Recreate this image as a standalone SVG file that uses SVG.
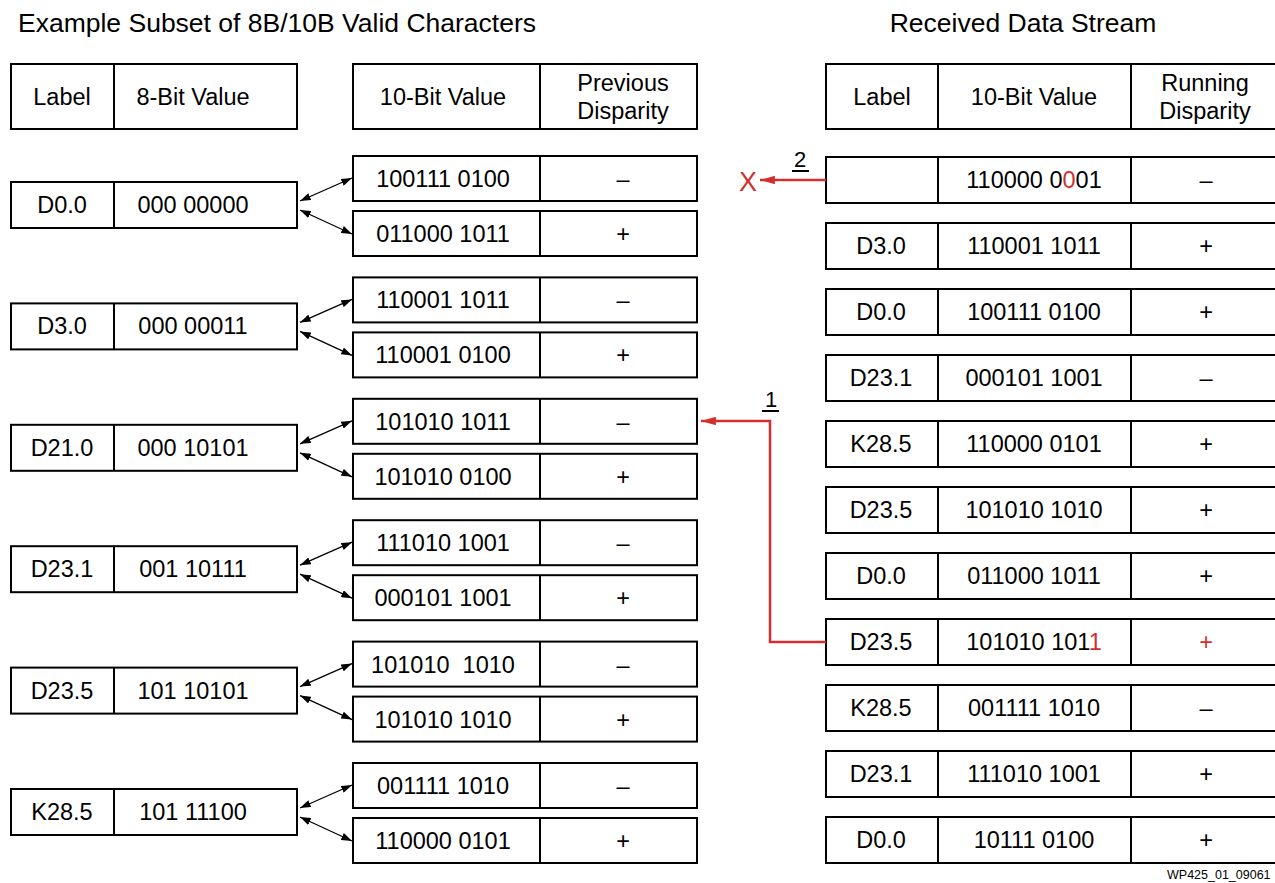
<svg xmlns="http://www.w3.org/2000/svg" width="1275" height="883" viewBox="0 0 1275 883">
<defs>
<style>
rect.b{fill:#fff;stroke:#000;stroke-width:2}
line.d{stroke:#000;stroke-width:2}
text{font-family:"Liberation Sans",Arial,Helvetica,sans-serif;font-size:23.5px;fill:#000}
text.m{text-anchor:middle}
text.t{font-size:26.5px}
.red{fill:#d2302f}
.ar{stroke:#000;stroke-width:1.3;fill:none}
.rl{stroke:#d2302f;stroke-width:2.5;fill:none}
</style>
<marker id="ah" viewBox="0 0 10 7" refX="10" refY="3.5" markerWidth="11" markerHeight="7.5" markerUnits="userSpaceOnUse" orient="auto-start-reverse">
<path d="M0,0 L10,3.5 L0,7 z" fill="#000"/>
</marker>
<marker id="rh" viewBox="0 0 14 8" refX="14" refY="4" markerWidth="15" markerHeight="8.5" markerUnits="userSpaceOnUse" orient="auto">
<path d="M0,0 L14,4 L0,8 z" fill="#d2302f"/>
</marker>
</defs>
<rect width="1275" height="883" fill="#fff"/>

<g id="titles">
<text class="t" x="18" y="32">Example Subset of 8B/10B Valid Characters</text>
<text class="t m" x="1023" y="32">Received Data Stream</text>
</g>

<g id="hdr-left">
<rect class="b" x="11" y="64" width="286" height="65"/>
<line class="d" x1="114" y1="64" x2="114" y2="129"/>
<text class="m" x="62" y="105">Label</text>
<text class="m" x="193" y="105">8-Bit Value</text>
</g>
<g id="hdr-mid">
<rect class="b" x="353" y="64" width="344" height="65"/>
<line class="d" x1="540" y1="64" x2="540" y2="129"/>
<text class="m" x="443" y="105">10-Bit Value</text>
<text class="m" x="623" y="91">Previous</text>
<text class="m" x="623" y="119">Disparity</text>
</g>
<g id="hdr-right">
<rect class="b" x="826" y="64" width="470" height="65"/>
<line class="d" x1="938" y1="64" x2="938" y2="129"/>
<line class="d" x1="1131" y1="64" x2="1131" y2="129"/>
<text class="m" x="882" y="105">Label</text>
<text class="m" x="1034" y="105">10-Bit Value</text>
<text class="m" x="1205" y="91">Running</text>
<text class="m" x="1205" y="119">Disparity</text>
</g>

<!-- left groups -->
<g id="L-D0.0" transform="translate(0,0)">
<rect class="b" x="11" y="182" width="286" height="46"/><line class="d" x1="114" y1="182" x2="114" y2="228"/>
<text class="m" x="62" y="213">D0.0</text><text class="m" x="193" y="213">000 00000</text>
<rect class="b" x="353" y="156" width="344" height="45"/><line class="d" x1="540" y1="156" x2="540" y2="201"/>
<text class="m" x="443" y="187">100111 0100</text><text class="m" x="623" y="187">–</text>
<rect class="b" x="353" y="211" width="344" height="45"/><line class="d" x1="540" y1="211" x2="540" y2="256"/>
<text class="m" x="443" y="242">011000 1011</text><text class="m" x="623" y="242">+</text>
</g>
<g id="L-D3.0" transform="translate(0,121.4)">
<rect class="b" x="11" y="182" width="286" height="46"/><line class="d" x1="114" y1="182" x2="114" y2="228"/>
<text class="m" x="62" y="213">D3.0</text><text class="m" x="193" y="213">000 00011</text>
<rect class="b" x="353" y="156" width="344" height="45"/><line class="d" x1="540" y1="156" x2="540" y2="201"/>
<text class="m" x="443" y="187">110001 1011</text><text class="m" x="623" y="187">–</text>
<rect class="b" x="353" y="211" width="344" height="45"/><line class="d" x1="540" y1="211" x2="540" y2="256"/>
<text class="m" x="443" y="242">110001 0100</text><text class="m" x="623" y="242">+</text>
</g>
<g id="L-D21.0" transform="translate(0,242.8)">
<rect class="b" x="11" y="182" width="286" height="46"/><line class="d" x1="114" y1="182" x2="114" y2="228"/>
<text class="m" x="62" y="213">D21.0</text><text class="m" x="193" y="213">000 10101</text>
<rect class="b" x="353" y="156" width="344" height="45"/><line class="d" x1="540" y1="156" x2="540" y2="201"/>
<text class="m" x="443" y="187">101010 1011</text><text class="m" x="623" y="187">–</text>
<rect class="b" x="353" y="211" width="344" height="45"/><line class="d" x1="540" y1="211" x2="540" y2="256"/>
<text class="m" x="443" y="242">101010 0100</text><text class="m" x="623" y="242">+</text>
</g>
<g id="L-D23.1" transform="translate(0,364.2)">
<rect class="b" x="11" y="182" width="286" height="46"/><line class="d" x1="114" y1="182" x2="114" y2="228"/>
<text class="m" x="62" y="213">D23.1</text><text class="m" x="193" y="213">001 10111</text>
<rect class="b" x="353" y="156" width="344" height="45"/><line class="d" x1="540" y1="156" x2="540" y2="201"/>
<text class="m" x="443" y="187">111010 1001</text><text class="m" x="623" y="187">–</text>
<rect class="b" x="353" y="211" width="344" height="45"/><line class="d" x1="540" y1="211" x2="540" y2="256"/>
<text class="m" x="443" y="242">000101 1001</text><text class="m" x="623" y="242">+</text>
</g>
<g id="L-D23.5" transform="translate(0,485.6)">
<rect class="b" x="11" y="182" width="286" height="46"/><line class="d" x1="114" y1="182" x2="114" y2="228"/>
<text class="m" x="62" y="213">D23.5</text><text class="m" x="193" y="213">101 10101</text>
<rect class="b" x="353" y="156" width="344" height="45"/><line class="d" x1="540" y1="156" x2="540" y2="201"/>
<text class="m" x="443" y="187" style="white-space:pre" xml:space="preserve">101010  1010</text><text class="m" x="623" y="187">–</text>
<rect class="b" x="353" y="211" width="344" height="45"/><line class="d" x1="540" y1="211" x2="540" y2="256"/>
<text class="m" x="443" y="242">101010 1010</text><text class="m" x="623" y="242">+</text>
</g>
<g id="L-K28.5" transform="translate(0,607)">
<rect class="b" x="11" y="182" width="286" height="46"/><line class="d" x1="114" y1="182" x2="114" y2="228"/>
<text class="m" x="62" y="213">K28.5</text><text class="m" x="193" y="213">101 11100</text>
<rect class="b" x="353" y="156" width="344" height="45"/><line class="d" x1="540" y1="156" x2="540" y2="201"/>
<text class="m" x="443" y="187">001111 1010</text><text class="m" x="623" y="187">–</text>
<rect class="b" x="353" y="211" width="344" height="45"/><line class="d" x1="540" y1="211" x2="540" y2="256"/>
<text class="m" x="443" y="242">110000 0101</text><text class="m" x="623" y="242">+</text>
</g>

<!-- right stream rows -->
<g id="R0" transform="translate(0,0)">
<rect class="b" x="826" y="157" width="470" height="46"/><line class="d" x1="938" y1="157" x2="938" y2="203"/><line class="d" x1="1131" y1="157" x2="1131" y2="203"/>
<text class="m" x="1034" y="188">110000 0<tspan class="red">0</tspan>01</text><text class="m" x="1206" y="188">–</text>
</g>
<g id="R1" transform="translate(0,66)">
<rect class="b" x="826" y="157" width="470" height="46"/><line class="d" x1="938" y1="157" x2="938" y2="203"/><line class="d" x1="1131" y1="157" x2="1131" y2="203"/>
<text class="m" x="881" y="188">D3.0</text><text class="m" x="1034" y="188">110001 1011</text><text class="m" x="1206" y="188">+</text>
</g>
<g id="R2" transform="translate(0,132)">
<rect class="b" x="826" y="157" width="470" height="46"/><line class="d" x1="938" y1="157" x2="938" y2="203"/><line class="d" x1="1131" y1="157" x2="1131" y2="203"/>
<text class="m" x="881" y="188">D0.0</text><text class="m" x="1034" y="188">100111 0100</text><text class="m" x="1206" y="188">+</text>
</g>
<g id="R3" transform="translate(0,198)">
<rect class="b" x="826" y="157" width="470" height="46"/><line class="d" x1="938" y1="157" x2="938" y2="203"/><line class="d" x1="1131" y1="157" x2="1131" y2="203"/>
<text class="m" x="881" y="188">D23.1</text><text class="m" x="1034" y="188">000101 1001</text><text class="m" x="1206" y="188">–</text>
</g>
<g id="R4" transform="translate(0,264)">
<rect class="b" x="826" y="157" width="470" height="46"/><line class="d" x1="938" y1="157" x2="938" y2="203"/><line class="d" x1="1131" y1="157" x2="1131" y2="203"/>
<text class="m" x="881" y="188">K28.5</text><text class="m" x="1034" y="188">110000 0101</text><text class="m" x="1206" y="188">+</text>
</g>
<g id="R5" transform="translate(0,330)">
<rect class="b" x="826" y="157" width="470" height="46"/><line class="d" x1="938" y1="157" x2="938" y2="203"/><line class="d" x1="1131" y1="157" x2="1131" y2="203"/>
<text class="m" x="881" y="188">D23.5</text><text class="m" x="1034" y="188">101010 1010</text><text class="m" x="1206" y="188">+</text>
</g>
<g id="R6" transform="translate(0,396)">
<rect class="b" x="826" y="157" width="470" height="46"/><line class="d" x1="938" y1="157" x2="938" y2="203"/><line class="d" x1="1131" y1="157" x2="1131" y2="203"/>
<text class="m" x="881" y="188">D0.0</text><text class="m" x="1034" y="188">011000 1011</text><text class="m" x="1206" y="188">+</text>
</g>
<g id="R7" transform="translate(0,462)">
<rect class="b" x="826" y="157" width="470" height="46"/><line class="d" x1="938" y1="157" x2="938" y2="203"/><line class="d" x1="1131" y1="157" x2="1131" y2="203"/>
<text class="m" x="881" y="188">D23.5</text><text class="m" x="1034" y="188">101010 101<tspan class="red">1</tspan></text><text class="m red" x="1206" y="188">+</text>
</g>
<g id="R8" transform="translate(0,528)">
<rect class="b" x="826" y="157" width="470" height="46"/><line class="d" x1="938" y1="157" x2="938" y2="203"/><line class="d" x1="1131" y1="157" x2="1131" y2="203"/>
<text class="m" x="881" y="188">K28.5</text><text class="m" x="1034" y="188">001111 1010</text><text class="m" x="1206" y="188">–</text>
</g>
<g id="R9" transform="translate(0,594)">
<rect class="b" x="826" y="157" width="470" height="46"/><line class="d" x1="938" y1="157" x2="938" y2="203"/><line class="d" x1="1131" y1="157" x2="1131" y2="203"/>
<text class="m" x="881" y="188">D23.1</text><text class="m" x="1034" y="188">111010 1001</text><text class="m" x="1206" y="188">+</text>
</g>
<g id="R10" transform="translate(0,660)">
<rect class="b" x="826" y="157" width="470" height="46"/><line class="d" x1="938" y1="157" x2="938" y2="203"/><line class="d" x1="1131" y1="157" x2="1131" y2="203"/>
<text class="m" x="881" y="188">D0.0</text><text class="m" x="1034" y="188">10111 0100</text><text class="m" x="1206" y="188">+</text>
</g>

<g id="connectors">
<line class="ar" x1="300" y1="201" x2="352" y2="178" marker-start="url(#ah)" marker-end="url(#ah)"/>
<line class="ar" x1="300" y1="210" x2="352" y2="234" marker-start="url(#ah)" marker-end="url(#ah)"/>
<line class="ar" x1="300" y1="322.4" x2="352" y2="299.4" marker-start="url(#ah)" marker-end="url(#ah)"/>
<line class="ar" x1="300" y1="331.4" x2="352" y2="355.4" marker-start="url(#ah)" marker-end="url(#ah)"/>
<line class="ar" x1="300" y1="443.8" x2="352" y2="420.8" marker-start="url(#ah)" marker-end="url(#ah)"/>
<line class="ar" x1="300" y1="452.8" x2="352" y2="476.8" marker-start="url(#ah)" marker-end="url(#ah)"/>
<line class="ar" x1="300" y1="565.2" x2="352" y2="542.2" marker-start="url(#ah)" marker-end="url(#ah)"/>
<line class="ar" x1="300" y1="574.2" x2="352" y2="598.2" marker-start="url(#ah)" marker-end="url(#ah)"/>
<line class="ar" x1="300" y1="686.6" x2="352" y2="663.6" marker-start="url(#ah)" marker-end="url(#ah)"/>
<line class="ar" x1="300" y1="695.6" x2="352" y2="719.6" marker-start="url(#ah)" marker-end="url(#ah)"/>
<line class="ar" x1="300" y1="808" x2="352" y2="785" marker-start="url(#ah)" marker-end="url(#ah)"/>
<line class="ar" x1="300" y1="817" x2="352" y2="841" marker-start="url(#ah)" marker-end="url(#ah)"/>
<path class="rl" d="M826,642 H770 V421 H701" marker-end="url(#rh)"/>
<path class="rl" d="M826,180 H760" marker-end="url(#rh)"/>
</g>

<g id="annotations">
<text class="m" x="771" y="407" style="font-size:22px">1</text>
<line x1="762" y1="411" x2="779" y2="411" stroke="#000" stroke-width="2"/>
<text class="m" x="800" y="167" style="font-size:22px">2</text>
<line x1="792" y1="171" x2="809" y2="171" stroke="#000" stroke-width="2"/>
<text class="m red" x="748" y="191" style="font-size:27px">X</text>
<text x="1167" y="879" style="font-size:12.5px">WP425_01_09061</text>
</g>
</svg>
